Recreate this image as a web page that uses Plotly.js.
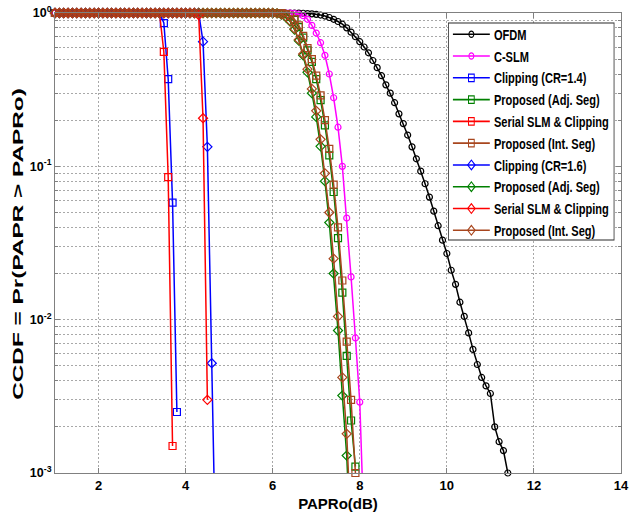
<!DOCTYPE html>
<html>
<head>
<meta charset="utf-8">
<script src="https://cdn.plot.ly/plotly-3.0.1.min.js"></script>
<style>
  html, body { margin: 0; padding: 0; background: #ffffff; overflow: hidden; }
  #chart { width: 631px; height: 519px; }
</style>
</head>
<body>
<div id="chart"></div>
<script>
// ---- data ----
const papr = [
  1.0,1.1,1.2,1.3,1.4,1.5,1.6,1.7,1.8,1.9,
  2.0,2.1,2.2,2.3,2.4,2.5,2.6,2.7,2.8,2.9,
  3.0,3.1,3.2,3.3,3.4,3.5,3.6,3.7,3.8,3.9,
  4.0,4.1,4.2,4.3,4.4,4.5,4.6,4.7,4.8,4.9,
  5.0,5.1,5.2,5.3,5.4,5.5,5.6,5.7,5.8,5.9,
  6.0,6.1,6.2,6.3,6.4,6.5,6.6,6.7,6.8,6.9,
  7.0,7.1,7.2,7.3,7.4,7.5,7.6,7.7,7.8,7.9,
  8.0,8.1,8.2,8.3,8.4,8.5,8.6,8.7,8.8,8.9,
  9.0,9.1,9.2,9.3,9.4,9.5,9.6,9.7,9.8,9.9,
  10.0,10.1,10.2,10.3,10.4,10.5,10.6,10.7,10.8,10.9,
  11.0,11.1,11.2,11.3,11.4,11.5
];

const ofdm = [
  1,1,1,1,1,1,1,1,1,1,
  1,1,1,1,1,1,1,1,1,1,
  1,1,1,1,1,1,1,1,1,1,
  1,1,1,1,1,1,1,1,1,1,
  1,1,1,1,1,1,1,1,1,1,
  1,1,1,1,1,0.999,0.998,0.996,0.992,0.987,
  0.980,0.970,0.955,0.935,0.910,0.880,0.845,0.800,0.750,0.700,
  0.650,0.600,0.550,0.490,0.440,0.390,0.340,0.300,0.260,0.220,
  0.190,0.160,0.134,0.112,0.093,0.077,0.063,0.051,0.041,0.033,
  0.027,0.021,0.017,0.013,0.0105,0.0082,0.0064,0.0051,0.0042,0.0037,
  0.0033,0.0020,0.0016,0.0014,0.0010
];

const cslm = [
  1,1,1,1,1,1,1,1,1,1,
  1,1,1,1,1,1,1,1,1,1,
  1,1,1,1,1,1,1,1,1,1,
  1,1,1,1,1,1,1,1,1,1,
  1,1,1,1,1,1,1,1,1,1,
  1,1,1,1,0.998,0.995,0.985,0.960,0.910,0.830,
  0.740,0.640,0.530,0.400,0.280,0.180,0.100,0.046,0.019,0.0076,
  0.0029,0.0004
];

const clip14 = [
  1,1,1,1,1,1,1,1,1,1,
  1,1,1,1,1,1,1,1,1,1,
  1,1,1,1,1,0.86,0.37,0.058,0.0025
];

const propAdj14 = [
  1,1,1,1,1,1,1,1,1,1,
  1,1,1,1,1,1,1,1,1,1,
  1,1,1,1,1,1,1,1,1,1,
  1,1,1,1,1,1,1,1,1,1,
  1,1,1,1,1,1,1,1,1,1,
  1,1,0.995,0.980,0.955,0.900,0.810,0.690,0.570,0.480,
  0.370,0.270,0.185,0.118,0.068,0.034,0.015,0.0058,0.0022,0.0011
];

const serial14 = [
  1,1,1,1,1,1,1,1,1,1,
  1,1,1,1,1,1,1,1,1,1,
  1,1,1,1,1,0.557,0.085,0.0015
];

const propInt14 = [
  1,1,1,1,1,1,1,1,1,1,
  1,1,1,1,1,1,1,1,1,1,
  1,1,1,1,1,1,1,1,1,1,
  1,1,1,1,1,1,1,1,1,1,
  1,1,1,1,1,1,1,1,1,1,
  1,1,0.997,0.985,0.960,0.910,0.830,0.710,0.590,0.500,
  0.390,0.290,0.200,0.130,0.076,0.040,0.018,0.0072,0.0030,0.0010
];

const clip16 = [
  1,1,1,1,1,1,1,1,1,1,
  1,1,1,1,1,1,1,1,1,1,
  1,1,1,1,1,1,1,1,1,1,
  1,1,1,1,0.65,0.134,0.0052,0.0002
];

const propAdj16 = [
  1,1,1,1,1,1,1,1,1,1,
  1,1,1,1,1,1,1,1,1,1,
  1,1,1,1,1,1,1,1,1,1,
  1,1,1,1,1,1,1,1,1,1,
  1,1,1,1,1,1,1,1,1,1,
  1,0.995,0.975,0.940,0.880,0.780,0.660,0.530,0.410,0.300,
  0.210,0.135,0.080,0.043,0.020,0.0085,0.0032,0.0013,0.0003
];

const serial16 = [
  1,1,1,1,1,1,1,1,1,1,
  1,1,1,1,1,1,1,1,1,1,
  1,1,1,1,1,1,1,1,1,1,
  1,1,1,0.97,0.206,0.003
];

const propInt16 = [
  1,1,1,1,1,1,1,1,1,1,
  1,1,1,1,1,1,1,1,1,1,
  1,1,1,1,1,1,1,1,1,1,
  1,1,1,1,1,1,1,1,1,1,
  1,1,1,1,1,1,1,1,1,1,
  1,0.995,0.980,0.950,0.890,0.790,0.670,0.540,0.430,0.320,
  0.230,0.150,0.090,0.050,0.025,0.0105,0.0042,0.0018,0.0004
];

const seriesNames = [
  'OFDM', 'C-SLM', 'Clipping (CR=1.4)', 'Proposed (Adj. Seg)',
  'Serial SLM & Clipping', 'Proposed (Int. Seg)', 'Clipping (CR=1.6)',
  'Proposed (Adj. Seg)', 'Serial SLM & Clipping', 'Proposed (Int. Seg)'
];
const xTickVals = [2, 4, 6, 8, 10, 12, 14];
const xTickText = ['2', '4', '6', '8', '10', '12', '14'];
const yTickVals = [0.001, 0.01, 0.1, 1];
const yTickText = ['10<sup>-3</sup>', '10<sup>-2</sup>', '10<sup>-1</sup>', '10<sup>0</sup>'];
const yMinorVals = [0.002,0.003,0.004,0.005,0.006,0.007,0.008,0.009,
                    0.02,0.03,0.04,0.05,0.06,0.07,0.08,0.09,
                    0.2,0.3,0.4,0.5,0.6,0.7,0.8,0.9];

// ---- styles ----
const FONT = "'Liberation Sans', Arial, Helvetica, sans-serif";
const C_BLACK = '#000000', C_MAG = '#FF00FF', C_BLUE = '#0000FF',
      C_GREEN = '#008000', C_RED = '#FF0000', C_BROWN = '#A8461E';

function mk(y, name, color, symbol, size) {
  return {
    type: 'scatter', mode: 'lines+markers', x: papr, y: y, name: name,
    cliponaxis: false,
    line: { color: color, width: 1.5 },
    marker: { symbol: symbol, size: size, color: color, line: { color: color, width: 1.2 } }
  };
}

const traces = [
  mk(ofdm,      seriesNames[0], C_BLACK, 'circle-open', 6),
  mk(cslm,      seriesNames[1], C_MAG,   'circle-open', 6),
  mk(clip14,    seriesNames[2], C_BLUE,  'square-open', 7),
  mk(propAdj14, seriesNames[3], C_GREEN, 'square-open', 7),
  mk(serial14,  seriesNames[4], C_RED,   'square-open', 7),
  mk(propInt14, seriesNames[5], C_BROWN, 'square-open', 7),
  mk(clip16,    seriesNames[6], C_BLUE,  'diamond-open', 7),
  mk(propAdj16, seriesNames[7], C_GREEN, 'diamond-open', 7),
  mk(serial16,  seriesNames[8], C_RED,   'diamond-open', 7),
  mk(propInt16, seriesNames[9], C_BROWN, 'diamond-open', 7)
];

const GRID = '#a8a8a8', AXIS = '#808080', DOTS = '2px,2px';

const layout = {
  width: 631, height: 519,
  margin: { l: 55, r: 10, t: 13, b: 46, autoexpand: false },
  paper_bgcolor: '#ffffff', plot_bgcolor: '#ffffff',
  font: { family: FONT, size: 13, color: '#000000' },
  showlegend: true,
  legend: {
    x: 0, y: 0.978, xanchor: 'left', yanchor: 'top',
    bgcolor: '#ffffff', bordercolor: '#333333', borderwidth: 1,
    itemwidth: 45,
    font: { family: FONT, size: 13.5, color: '#000000', weight: 'bold' },
    tracegroupgap: 0
  },
  xaxis: {
    type: 'linear', range: [1, 14],
    tickmode: 'array', tickvals: xTickVals, ticktext: xTickText,
    ticks: 'inside', ticklen: 5, tickcolor: AXIS, tickwidth: 1,
    showline: true, linecolor: AXIS, linewidth: 1, mirror: 'allticks',
    showgrid: true, gridcolor: GRID, griddash: DOTS, gridwidth: 1,
    zeroline: false,
    tickfont: { family: FONT, size: 13, weight: 'bold' },
    title: { text: 'PAPRo(dB)', font: { family: FONT, size: 15, weight: 'bold' }, standoff: 6 }
  },
  yaxis: {
    type: 'log', range: [-3, 0],
    tickmode: 'array', tickvals: yTickVals, ticktext: yTickText,
    ticks: 'inside', ticklen: 5, tickcolor: AXIS, tickwidth: 1,
    showline: true, linecolor: AXIS, linewidth: 1, mirror: 'allticks',
    showgrid: true, gridcolor: GRID, griddash: DOTS, gridwidth: 1,
    zeroline: false,
    tickfont: { family: FONT, size: 12.5, weight: 'bold' },
    minor: {
      tickmode: 'array', tickvals: yMinorVals,
      ticks: 'inside', ticklen: 3, tickcolor: AXIS,
      showgrid: true, gridcolor: GRID, griddash: DOTS, gridwidth: 1
    },
    title: { text: 'CCDF = Pr(PAPR > PAPRo)', font: { family: FONT, size: 15, weight: 'bold' }, standoff: 6 }
  }
};

Plotly.newPlot('chart', traces, layout, { staticPlot: true, displayModeBar: false }).then(function (gd) {
  // legend: place in the upper right and compress it horizontally like the reference
  const lg = gd.querySelector('g.legend');
  if (lg) {
    lg.setAttribute('transform', 'translate(448,17) scale(0.82,1.06)');
    const bg = lg.querySelector('rect.bg');
    if (bg) {
      const by = 6 / 1.06, bh = (240 - 17) / 1.06 - by;
      bg.setAttribute('y', by);
      bg.setAttribute('height', bh);
    }
  }
  // y-axis title: stretch along its length, as in the reference
  const t = gd.querySelector('.ytitle');
  if (t) {
    const x = +t.getAttribute('x'), y = +t.getAttribute('y');
    const tr = t.getAttribute('transform') || '';
    const r0 = t.getBoundingClientRect();
    const s = 312 / r0.height;
    const T = tr + ' translate(' + x + ',' + y + ') scale(' + s + ',1) translate(' + (-x) + ',' + (-y) + ')';
    t.setAttribute('transform', T);
    const r1 = t.getBoundingClientRect();
    const dx = 18 - (r1.left + r1.right) / 2, dy = 244 - (r1.top + r1.bottom) / 2;
    t.setAttribute('transform', 'translate(' + dx + ',' + dy + ') ' + T);
  }
});
</script>
</body>
</html>
